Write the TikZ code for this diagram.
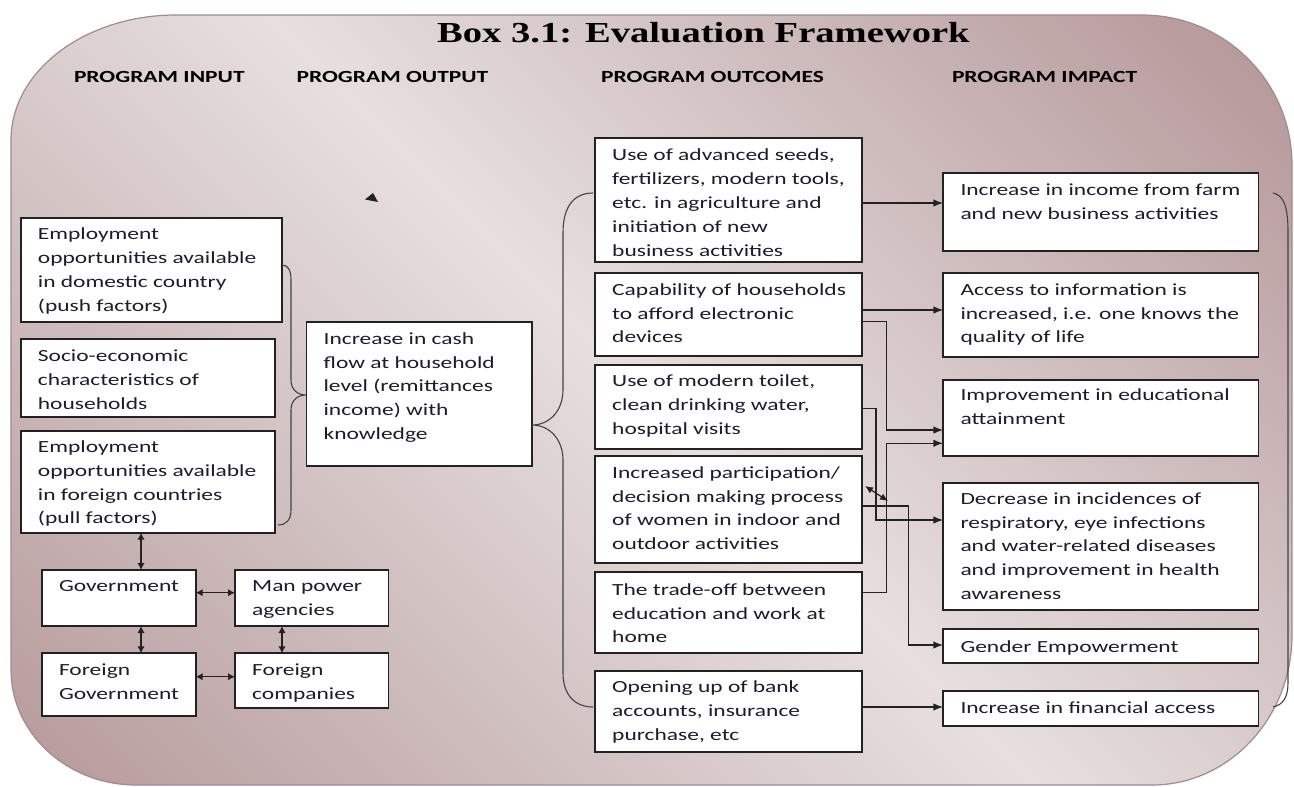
\documentclass[tikz,border=0pt]{standalone}
\usepackage{fontspec}
\setmainfont{Carlito}[FakeStretch=1.38]
\newfontfamily\titlefont{Liberation Serif}[FakeStretch=1.33]
\usetikzlibrary{arrows.meta,calc}
\definecolor{bgT}{HTML}{B39597}
\definecolor{bgM}{HTML}{E7DFDF}
\definecolor{bgB}{HTML}{B69A9B}
\definecolor{txtc}{HTML}{1E1A30}
\definecolor{linec}{HTML}{222222}
\definecolor{edgec}{HTML}{A38A8C}
\pgfdeclareverticalshading{bgshade}{100bp}{color(0bp)=(bgB); color(15bp)=(bgB); color(50bp)=(bgM); color(85bp)=(bgT); color(100bp)=(bgT)}
\newcommand\mkbox[7]{%
  \node[boxst, anchor=north west, minimum width={(#4)-(#2)}, minimum height={(#5)-(#3)}] (#1) at (#2,#3) {};
  \node[txtst, anchor=north west] (#1t) at ({(#2)+17},{(#6)-16}) {\rule{0pt}{16pt}#7};}
\tikzset{
  boxst/.style={draw=linec, line width=1.7pt, fill=white, inner sep=0pt, outer sep=0pt},
  txtst/.style={inner sep=0pt, align=left, text=txtc, font=\fontsize{17}{23.8}\selectfont},
  hdr/.style={font=\fontsize{17}{20}\selectfont\bfseries, text=black, inner sep=0pt, anchor=base west},
  arr/.style={draw=linec, line width=1.4pt, -{Latex[length=10pt,width=7.5pt]}},
  dbl/.style={draw=linec, line width=1.5pt, {Latex[length=7pt,width=7.5pt]}-{Latex[length=7pt,width=7.5pt]}},
  brc/.style={draw=linec!85, line width=1.1pt}
}
\begin{document}
\begin{tikzpicture}[x=1pt,y=-1pt]
\useasboundingbox (0,0) rectangle (1294,787);
% background
\shade[shading=bgshade, shading angle=-45, draw=edgec, line width=1.2pt]
  (11,140) .. controls (11,71) and (85,15) .. (176,15)
  -- (1142,15) .. controls (1225,15) and (1292,82) .. (1292,165)
  -- (1292,635) .. controls (1292,718) and (1229,785) .. (1152,785)
  -- (136,785) .. controls (67,785) and (11,733) .. (11,670) -- cycle;
% title and headers
\node[inner sep=0pt, anchor=base west, font=\titlefont\bfseries\fontsize{29}{30}\selectfont] (title) at (437,42) {Box 3.1: Evaluation Framework};
\node[hdr] (hin) at (73.8,82.7) {PROGRAM INPUT};
\node[hdr] (hout) at (296.4,82.7) {PROGRAM OUTPUT};
\node[hdr] (houtc) at (601,82.7) {PROGRAM OUTCOMES};
\node[hdr] (himp) at (951.8,82.2) {PROGRAM IMPACT};
% input boxes
\mkbox{e1}{20.7}{218.3}{282}{322}{239.5}{Employment\\opportunities available\\in domestic country\\(push factors)}
\mkbox{s1}{20.7}{339.3}{275}{417.3}{361.7}{Socio-economic\\characteristics of\\households}
\mkbox{e2}{20.7}{430.7}{275}{532.7}{452.3}{Employment\\opportunities available\\in foreign countries\\(pull factors)}
\mkbox{cash}{306.4}{321.7}{532}{465.7}{344}{Increase in cash\\flow at household\\level (remittances\\income) with\\knowledge}
% outcome boxes
\mkbox{o1}{595}{138.3}{861.7}{261.7}{160.7}{Use of advanced seeds,\\fertilizers, modern tools,\\etc. in agriculture and\\initiation of new\\business activities}
\mkbox{o2}{595}{273.3}{861.7}{356}{295}{Capability of households\\to afford electronic\\devices}
\mkbox{o3}{595}{365}{861.7}{449.3}{386.7}{Use of modern toilet,\\clean drinking water,\\hospital visits}
\mkbox{o4}{595}{456}{861.7}{562.7}{478}{Increased participation/\\decision making process\\of women in indoor and\\outdoor activities}
\mkbox{o5}{595}{572.3}{861.7}{652.7}{595}{The trade-off between\\education and work at\\home}
\mkbox{o6}{595}{670.7}{861.7}{751.7}{692.7}{Opening up of bank\\accounts, insurance\\purchase, etc}
% impact boxes
\mkbox{i1}{943.3}{173.3}{1258.5}{251}{195}{Increase in income from farm\\and new business activities}
\mkbox{i2}{943.3}{273.3}{1258.5}{356.7}{295}{Access to information is\\increased, i.e. one knows the\\quality of life}
\mkbox{i3}{943.3}{380}{1258.5}{456}{400.7}{Improvement in educational\\attainment}
\mkbox{i4}{943.3}{482.7}{1258.5}{610}{504}{Decrease in incidences of\\respiratory, eye infections\\and water-related diseases\\and improvement in health\\awareness}
\mkbox{i5}{943.3}{629.3}{1258.5}{663.3}{652.3}{Gender Empowerment}
\mkbox{i6}{943.3}{690.7}{1258.5}{725.7}{713.3}{Increase in financial access}
% actor boxes
\mkbox{gov}{41.8}{570}{195.7}{626}{591.7}{Government}
\mkbox{man}{235}{570}{388.6}{626}{591.7}{Man power\\agencies}
\mkbox{fgov}{41.8}{653.3}{195.7}{716}{675}{Foreign\\Government}
\mkbox{fcom}{235}{653.3}{388.6}{707.7}{675}{Foreign\\companies}
% braces
\draw[brc] (282,265) .. controls (288,265) and (291,270) .. (291,280) -- (291,380)
  .. controls (291,390) and (298,395) .. (306,395)
  .. controls (298,395) and (291,400) .. (291,410) -- (291,510)
  .. controls (291,520) and (286,525) .. (278,525);
\draw[brc] (593,193) .. controls (575,193) and (563,205) .. (563,233) -- (563,390)
  .. controls (563,410) and (550,425) .. (532,425)
  .. controls (550,425) and (563,440) .. (563,460) -- (563,673)
  .. controls (563,695) and (575,707) .. (593,707);
\draw[brc] (1273,193) .. controls (1283,195) and (1288,205) .. (1288,232) -- (1288,683)
  .. controls (1288,697) and (1283,705) .. (1273,707);
% bend coordinates
\coordinate (xa) at (886.7,0);
\coordinate (xb) at (876,0);
\coordinate (xc) at (908.3,0);
% outcome -> impact connectors
\draw[arr] (o1.east |- 0,203) -- (i1.west |- 0,203);
\draw[arr] (o2.east |- 0,310) -- (i2.west |- 0,310);
\draw[arr] (o2.east |- 0,321.7) -| (xa |- 0,430) -- (i3.west |- 0,430);
\draw[arr] (o5.east |- 0,592.7) -| (xa |- 0,443.3) -- (i3.west |- 0,443.3);
\draw[arr] (o3.east |- 0,408.3) -| (xb |- 0,520) -- (i4.west |- 0,520);
\draw[arr] (o4.east |- 0,506) -| (xc |- 0,645) -- (i5.west |- 0,645);
\draw[arr] (o6.east |- 0,707) -- (i6.west |- 0,707);
\coordinate (t1) at (865,486);
\coordinate (t2) at (888,501);
\draw[draw=linec, line width=1.2pt, {Latex[length=8pt,width=7pt]}-{Latex[length=8pt,width=7pt]}] (t1) -- (t2);
% stray arrowhead
\fill[linec] (373,193) -- (365,199.5) -- (378,202) -- cycle;
% actor connectors
\draw[dbl] (e2.south -| 141,0) -- (gov.north -| 141,0);
\draw[dbl] (gov.east |- 0,592.7) -- (man.west |- 0,592.7);
\draw[dbl] (gov.south -| 141,0) -- (fgov.north -| 141,0);
\draw[dbl] (man.south -| 282,0) -- (fcom.north -| 282,0);
\draw[dbl] (fgov.east |- 0,676.7) -- (fcom.west |- 0,676.7);
\end{tikzpicture}
\end{document}
